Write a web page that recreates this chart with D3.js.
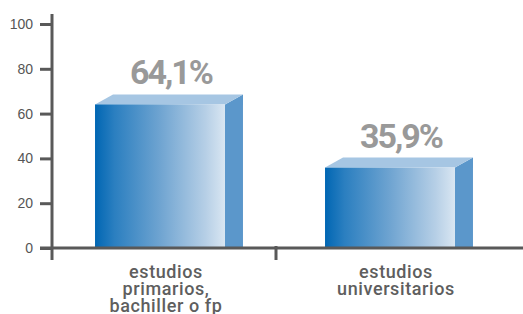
<!DOCTYPE html>
<html>
<head>
<meta charset="utf-8">
<script src="https://cdn.jsdelivr.net/npm/d3@7"></script>
<style>
  body { margin: 0; background: #fff; }
  svg { display: block; }
</style>
</head>
<body>
<div id="chart"></div>
<script>
// data
var categories = ["primarios", "universitarios"];
var categoryLines = [["estudios", "primarios,", "bachiller o fp"], ["estudios", "universitarios"]];
var values = [64.1, 35.9];
var valueLabels = ["64,1%", "35,9%"];
var yTicks = [0, 20, 40, 60, 80, 100];

var width = 523, height = 314;
var depthX = 18, depthY = 10;

var svg = d3.select("#chart").append("svg")
  .attr("width", width)
  .attr("height", height);

var y = d3.scaleLinear().domain([0, 100]).range([248, 24]);
var x = d3.scaleBand().domain(categories).range([46, 506]);
var barW = x.bandwidth() * 0.565;

// front face gradient
var defs = svg.append("defs");
var grad = defs.append("linearGradient")
  .attr("id", "frontGrad")
  .attr("x1", "0%").attr("x2", "100%").attr("y1", "0%").attr("y2", "0%");
grad.append("stop").attr("offset", "0%").attr("stop-color", "#0066b3");
grad.append("stop").attr("offset", "15%").attr("stop-color", "#2b7fc0");
grad.append("stop").attr("offset", "50%").attr("stop-color", "#6fa4d1");
grad.append("stop").attr("offset", "85%").attr("stop-color", "#b6cfe6");
grad.append("stop").attr("offset", "100%").attr("stop-color", "#d9e6f2");

var bars = svg.selectAll("g.bar")
  .data(values)
  .enter()
  .append("g")
  .attr("class", "bar");

bars.each(function (d, i) {
  var g = d3.select(this);
  var x0 = x(categories[i]) + x.bandwidth() / 2 - barW / 2 - 1;
  var x1 = x0 + barW;
  var yt = y(d), yb = y(0);

  // side
  g.append("path")
    .attr("d", "M" + x1 + "," + yb + "L" + x1 + "," + yt +
               "L" + (x1 + depthX) + "," + (yt - depthY) +
               "L" + (x1 + depthX) + "," + yb + "Z")
    .attr("fill", "#5b97cb");
  // top
  g.append("path")
    .attr("d", "M" + x0 + "," + yt + "L" + (x0 + depthX) + "," + (yt - depthY) +
               "L" + (x1 + depthX) + "," + (yt - depthY) + "L" + x1 + "," + yt + "Z")
    .attr("fill", "#a6c6e3");
  // front
  g.append("rect")
    .attr("x", x0)
    .attr("y", yt)
    .attr("width", barW)
    .attr("height", yb - yt)
    .attr("fill", "url(#frontGrad)");

  g.append("text")
    .attr("x", x0 + (barW + depthX) / 2 + 2)
    .attr("y", yt - 20)
    .attr("text-anchor", "middle")
    .style("font-family", "Roboto, 'Liberation Sans', sans-serif")
    .style("font-weight", "bold")
    .style("font-size", "34px")
    .style("letter-spacing", "-2px")
    .style("fill", "#999999")
    .text(valueLabels[i]);
});

// y axis
var yAxis = svg.append("g")
  .attr("transform", "translate(52,0)")
  .call(d3.axisLeft(y).tickValues(yTicks).tickSize(12).tickPadding(7));
yAxis.select(".domain").remove();
yAxis.selectAll(".tick line")
  .attr("stroke", "#595959")
  .attr("stroke-width", 3);
yAxis.selectAll(".tick text")
  .style("font-family", "'Liberation Sans', Arial, sans-serif")
  .style("font-size", "14px")
  .style("fill", "#555");

svg.append("line")
  .attr("x1", 52).attr("x2", 52)
  .attr("y1", y(100) - 10).attr("y2", y(0) + 12)
  .attr("stroke", "#595959")
  .attr("stroke-width", 3);

// x axis
svg.append("line")
  .attr("x1", 40).attr("x2", width)
  .attr("y1", y(0)).attr("y2", y(0))
  .attr("stroke", "#595959")
  .attr("stroke-width", 3);

svg.append("line")
  .attr("x1", x(categories[1])).attr("x2", x(categories[1]))
  .attr("y1", y(0) - 2).attr("y2", y(0) + 12)
  .attr("stroke", "#595959")
  .attr("stroke-width", 3);

// category labels
svg.selectAll("text.cat")
  .data(categoryLines)
  .enter()
  .append("text")
  .attr("class", "cat")
  .attr("text-anchor", "middle")
  .style("font-family", "Roboto, 'Liberation Sans', sans-serif")
  .style("font-weight", "500")
  .style("font-size", "18px")
  .style("letter-spacing", "0.6px")
  .style("fill", "#5e5e5e")
  .each(function (lines, i) {
    var cx = x(categories[i]) + x.bandwidth() / 2 + 5;
    d3.select(this).selectAll("tspan")
      .data(lines)
      .enter()
      .append("tspan")
      .attr("x", cx)
      .attr("y", function (l, k) { return 278 + k * 17; })
      .text(function (l) { return l; });
  });
</script>
</body>
</html>
